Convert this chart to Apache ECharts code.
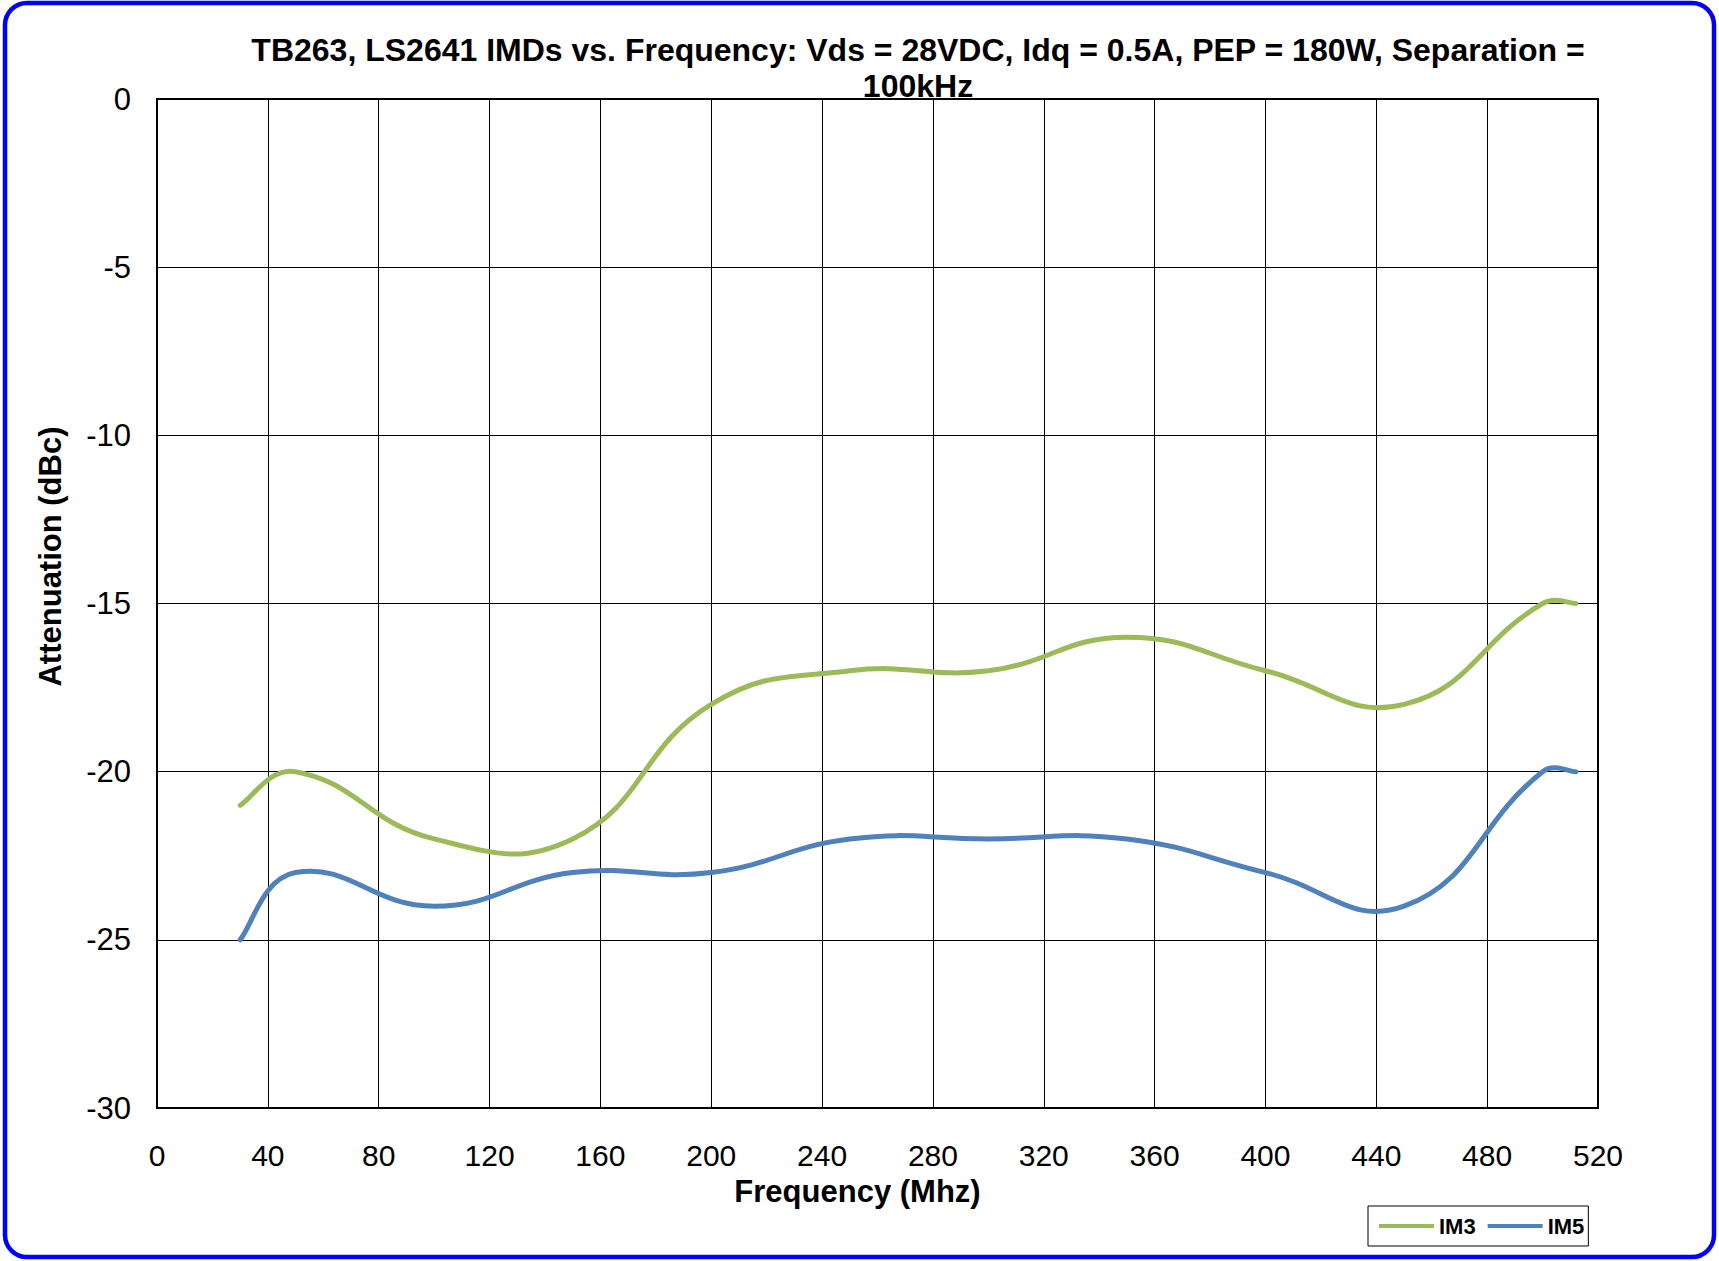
<!DOCTYPE html>
<html>
<head>
<meta charset="utf-8">
<script src="https://cdn.jsdelivr.net/npm/echarts@6/dist/echarts.min.js"></script>
<style>
  html, body { margin: 0; padding: 0; background: #fff; }
  #chart { width: 1719px; height: 1261px; }
</style>
</head>
<body>
<div id="chart"></div>
<script>
  // frequency points (MHz) and measured attenuation (dBc)
  const freq = [30, 50, 100, 150, 200, 250, 300, 350, 400, 450, 500, 512]
  const im3 = [-21, -20, -22, -22, -18, -17, -17, -16, -17, -18, -15, -15]
  const im5 = [-25, -23, -24, -23, -23, -22, -22, -22, -23, -24, -20, -20]
  const seriesNames = ['IM3', 'IM5']
  const seriesColors = ['#9BBB59', '#4F81BD']
  const xTicks = { min: 0, max: 520, step: 40 }
  const yTicks = { min: -30, max: 0, step: 5 }

  const myChart = echarts.init(document.getElementById('chart'), null, { renderer: 'svg' })
  const font = 'Liberation Sans, Arial, sans-serif'

  // spreadsheet style smoothing (no clamping, so the curve may overshoot a bit)
  function smoothPath (pts, s) {
    let d = 'M' + pts[0][0] + ' ' + pts[0][1]
    const len = (a, b) => Math.hypot(b[0] - a[0], b[1] - a[1])
    const ctrl = i => {
      const p = pts[i]
      const prev = pts[Math.max(i - 1, 0)]
      const next = pts[Math.min(i + 1, pts.length - 1)]
      const vx = next[0] - prev[0]
      const vy = next[1] - prev[1]
      let l0 = len(prev, p)
      let l1 = len(p, next)
      if (!l0 || !l1) { l0 = l1 = 1 }
      const r1 = l1 / (l0 + l1)
      const r0 = l0 / (l0 + l1)
      return {
        back: [p[0] - vx * s * r0, p[1] - vy * s * r0],
        fwd: [p[0] + vx * s * r1, p[1] + vy * s * r1]
      }
    }
    for (let i = 0; i < pts.length - 1; i++) {
      const c1 = ctrl(i).fwd
      const c2 = ctrl(i + 1).back
      const p = pts[i + 1]
      d += ' C' + c1.join(' ') + ' ' + c2.join(' ') + ' ' + p.join(' ')
    }
    return d
  }

  function curveSeries (name, values, color) {
    return {
      name: name,
      type: 'custom',
      coordinateSystem: 'cartesian2d',
      itemStyle: { color: color },
      encode: { x: 0, y: 1 },
      data: freq.map((f, i) => [f, values[i]]),
      renderItem (params, api) {
        if (params.dataIndex !== 0) return null
        const pts = freq.map((f, i) => api.coord([f, values[i]]))
        return {
          type: 'path',
          shape: { pathData: smoothPath(pts, 0.45) },
          style: { fill: 'none', stroke: color, lineWidth: 5, lineCap: 'round', lineJoin: 'round' }
        }
      }
    }
  }

  let option = {
    backgroundColor: '#fff',
    animation: false,
    color: seriesColors,
    title: {
      text: 'TB263, LS2641 IMDs vs. Frequency: Vds = 28VDC, Idq = 0.5A, PEP = 180W, Separation =\n100kHz',
      left: 918,
      textAlign: 'center',
      top: 32,
      padding: 0,
      textStyle: {
        fontFamily: font,
        fontSize: 32,
        fontWeight: 'bold',
        color: '#000',
        lineHeight: 36
      }
    },
    graphic: [{
      type: 'rect',
      silent: true,
      shape: { x: 5, y: 3, width: 1709, height: 1254, r: 22 },
      style: { fill: 'none', stroke: '#0000FF', lineWidth: 4.5 }
    }],
    legend: {
      data: seriesNames,
      left: 1368,
      top: 1206,
      orient: 'horizontal',
      icon: 'rect',
      itemWidth: 55,
      itemHeight: 4,
      itemGap: 12,
      padding: [9, 4, 9, 11],
      borderColor: '#000',
      borderWidth: 1,
      textStyle: {
        fontFamily: font,
        fontSize: 22,
        fontWeight: 'bold',
        color: '#000'
      }
    },
    grid: {
      left: 157,
      right: 121,
      top: 99,
      bottom: 153,
      show: true,
      borderColor: '#000',
      borderWidth: 2,
      containLabel: false
    },
    xAxis: {
      type: 'value',
      min: xTicks.min,
      max: xTicks.max,
      interval: xTicks.step,
      name: 'Frequency (Mhz)',
      nameLocation: 'middle',
      nameGap: 68,
      nameTextStyle: {
        fontFamily: font,
        fontSize: 31,
        fontWeight: 'bold',
        color: '#000',
        padding: [0, 40, 0, 0]
      },
      axisLine: { show: true, lineStyle: { color: '#000', width: 2 } },
      axisTick: { show: false },
      axisLabel: {
        margin: 32,
        fontFamily: font,
        fontSize: 30,
        color: '#000'
      },
      splitLine: { show: true, lineStyle: { color: '#000', width: 1 } }
    },
    yAxis: {
      type: 'value',
      min: yTicks.min,
      max: yTicks.max,
      interval: yTicks.step,
      name: 'Attenuation (dBc)',
      nameLocation: 'middle',
      nameRotate: 90,
      nameGap: 91,
      nameTextStyle: {
        fontFamily: font,
        fontSize: 31,
        fontWeight: 'bold',
        color: '#000',
        padding: [0, 0, 0, 94]
      },
      axisLine: { show: true, lineStyle: { color: '#000', width: 2 } },
      axisTick: { show: false },
      axisLabel: {
        margin: 26,
        fontFamily: font,
        fontSize: 31,
        color: '#000'
      },
      splitLine: { show: true, lineStyle: { color: '#000', width: 1 } }
    },
    series: [
      curveSeries(seriesNames[0], im3, seriesColors[0]),
      curveSeries(seriesNames[1], im5, seriesColors[1])
    ]
  }
  myChart.setOption(option)
</script>
</body>
</html>
